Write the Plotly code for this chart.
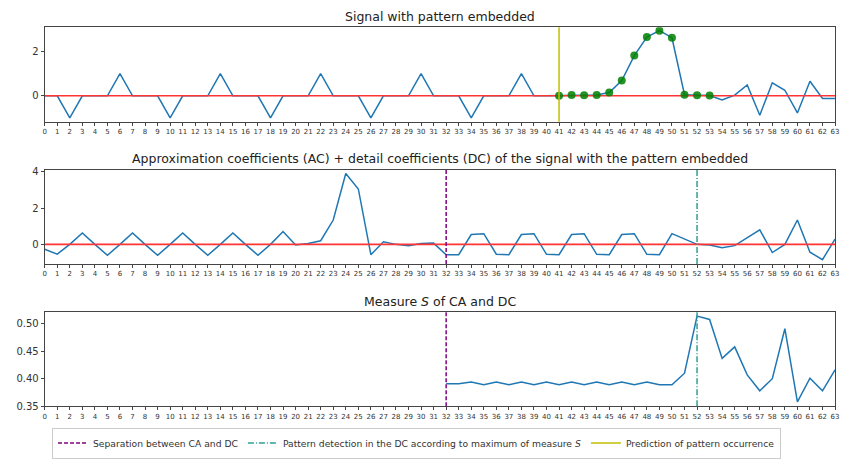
import plotly.graph_objects as go

x_idx = list(range(64))

signal = [0, 0, -1, 0, 0, 0, 1, 0,
          0, 0, -1, 0, 0, 0, 1, 0,
          0, 0, -1, 0, 0, 0, 1, 0,
          0, 0, -1, 0, 0, 0, 1, 0,
          0, 0, -1, 0, 0, 0, 1, 0,
          0, 0.0, 0.03, 0.02, 0.03, 0.15, 0.69, 1.82, 2.66, 2.95, 2.63, 0.05,
          0.02, 0.01, -0.19, 0.03, 0.49, -0.88, 0.59, 0.25, -0.78, 0.66, -0.12, -0.12]

pattern_x = list(range(41, 54))

coeffs = [-0.27, -0.54, 0.0, 0.63, 0.0, -0.6, 0.0, 0.63,
          0.0, -0.6, 0.0, 0.63, 0.0, -0.6, 0.0, 0.63,
          0.0, -0.6, 0.0, 0.71, -0.03, 0.05, 0.2, 1.34,
          3.9, 3.05, -0.57, 0.14, 0.0, -0.07, 0.05, 0.07,
          -0.57, -0.57, 0.54, 0.59, -0.54, -0.57, 0.54, 0.59,
          -0.55, -0.57, 0.54, 0.59, -0.55, -0.57, 0.54, 0.59,
          -0.55, -0.57, 0.59, 0.29, 0.0, -0.03, -0.18, -0.07,
          0.38, 0.8, -0.45, 0.0, 1.34, -0.43, -0.84, 0.29]

measure_x = list(range(32, 64))
measure_s = [0.391, 0.391, 0.394, 0.389, 0.394, 0.389, 0.394, 0.389,
             0.394, 0.389, 0.394, 0.389, 0.394, 0.389, 0.394, 0.389,
             0.394, 0.389, 0.389, 0.410, 0.514, 0.508, 0.437, 0.458,
             0.407, 0.378, 0.400, 0.491, 0.358, 0.401, 0.378, 0.416]

sep_x = 32
detect_x = 52
predict_x = 41

titles = ["Signal with pattern embedded",
          "Approximation coefficients (AC) + detail coefficients (DC) of the signal with the pattern embedded",
          "Measure <i>S</i> of CA and DC"]
legend_names = ["Separation between CA and DC",
                "Pattern detection in the DC according to maximum of measure <i>S</i>",
                "Prediction of pattern occurrence"]

BLUE = "#1f77b4"
RED = "#ff3535"
GREEN = "#008000"
YEL = "#bfbf00"
PURP = "#800080"
TEAL = "#2f9e94"
FONT = "DejaVu Sans"

W, H = 845, 459
xdom = [43 / W, 839 / W]
doms = [[1 - 122 / H, 1 - 25 / H], [1 - 268 / H, 1 - 171 / H], [1 - 414 / H, 1 - 317 / H]]

fig = go.Figure()

# panel 1
fig.add_trace(go.Scatter(x=x_idx, y=signal, mode="lines", line=dict(color=BLUE, width=1.5),
                         xaxis="x", yaxis="y", showlegend=False))
fig.add_trace(go.Scatter(x=[0, 63], y=[0, 0], mode="lines", line=dict(color=RED, width=1.6),
                         xaxis="x", yaxis="y", showlegend=False))
fig.add_trace(go.Scatter(x=pattern_x, y=[signal[i] for i in pattern_x], mode="markers",
                         marker=dict(color=GREEN, size=8), opacity=0.85,
                         xaxis="x", yaxis="y", showlegend=False))
# panel 2
fig.add_trace(go.Scatter(x=x_idx, y=coeffs, mode="lines", line=dict(color=BLUE, width=1.5),
                         xaxis="x2", yaxis="y2", showlegend=False))
fig.add_trace(go.Scatter(x=[0, 63], y=[0, 0], mode="lines", line=dict(color=RED, width=1.6),
                         xaxis="x2", yaxis="y2", showlegend=False))
# panel 3
fig.add_trace(go.Scatter(x=measure_x, y=measure_s, mode="lines", line=dict(color=BLUE, width=1.5),
                         xaxis="x3", yaxis="y3", showlegend=False))

# legend entries
fig.add_trace(go.Scatter(x=[None], y=[None], mode="lines", name=legend_names[0],
                         line=dict(color=PURP, width=1.5, dash="4px,2px")))
fig.add_trace(go.Scatter(x=[None], y=[None], mode="lines", name=legend_names[1],
                         line=dict(color=TEAL, width=1.5, dash="6px,2px,1px,2px")))
fig.add_trace(go.Scatter(x=[None], y=[None], mode="lines", name=legend_names[2],
                         line=dict(color=YEL, width=1.5)))

# vertical lines
def vline(xv, xref, yref, color, dash):
    fig.add_shape(type="line", x0=xv, x1=xv, y0=0, y1=1, xref=xref, yref=yref + " domain",
                  line=dict(color=color, width=1.5, dash=dash), layer="above")

vline(predict_x, "x", "y", YEL, "solid")
vline(sep_x, "x2", "y2", PURP, "4px,2px")
vline(detect_x, "x2", "y2", TEAL, "6px,2px,1px,2px")
vline(sep_x, "x3", "y3", PURP, "4px,2px")
vline(detect_x, "x3", "y3", TEAL, "6px,2px,1px,2px")

axis_common = dict(showline=True, linecolor="#444", linewidth=1, mirror=True, showgrid=False,
                   zeroline=False, ticks="outside", ticklen=3, tickcolor="#444")

xcommon = dict(axis_common, range=[0, 63], tickmode="array", tickvals=x_idx,
               ticktext=[str(v) for v in x_idx], tickfont=dict(size=7, family=FONT, color="#333"),
               domain=xdom)

yfont = dict(size=10, family=FONT, color="#333")
tfont = dict(size=12.5, family=FONT, color="#222")
xc = 0.5 * (xdom[0] + xdom[1])

layout = dict(
    width=W, height=H, margin=dict(l=0, r=0, t=0, b=0),
    paper_bgcolor="white", plot_bgcolor="white",
    font=dict(family=FONT, color="#222"),
    xaxis=dict(xcommon, anchor="y"),
    xaxis2=dict(xcommon, anchor="y2"),
    xaxis3=dict(xcommon, anchor="y3"),
    yaxis=dict(axis_common, domain=doms[0], anchor="x", range=[-1.18, 3.1], tickvals=[0, 2],
               tickfont=yfont),
    yaxis2=dict(axis_common, domain=doms[1], anchor="x2", range=[-1.08, 4.12], tickvals=[0, 2, 4],
                tickfont=yfont),
    yaxis3=dict(axis_common, domain=doms[2], anchor="x3", range=[0.35, 0.522],
                tickvals=[0.35, 0.40, 0.45, 0.50], ticktext=["0.35", "0.40", "0.45", "0.50"],
                tickfont=yfont),
    legend=dict(orientation="h", x=(52 + 783) / 2 / W, xanchor="center", y=(H - 436) / H,
                yanchor="top", bordercolor="#ccc", borderwidth=1,
                font=dict(size=9.2, family=FONT, color="#333"),
                itemwidth=30, bgcolor="white"),
    annotations=[
        dict(text=titles[0], x=xc, y=1 - 14 / H, xref="paper", yref="paper",
             showarrow=False, font=tfont, yanchor="middle"),
        dict(text=titles[1], x=xc, y=1 - 160 / H, xref="paper", yref="paper",
             showarrow=False, font=tfont, yanchor="middle"),
        dict(text=titles[2], x=xc, y=1 - 306 / H, xref="paper", yref="paper",
             showarrow=False, font=tfont, yanchor="middle"),
    ],
)
fig.update_layout(**layout)
fig.write_html("out.html")
